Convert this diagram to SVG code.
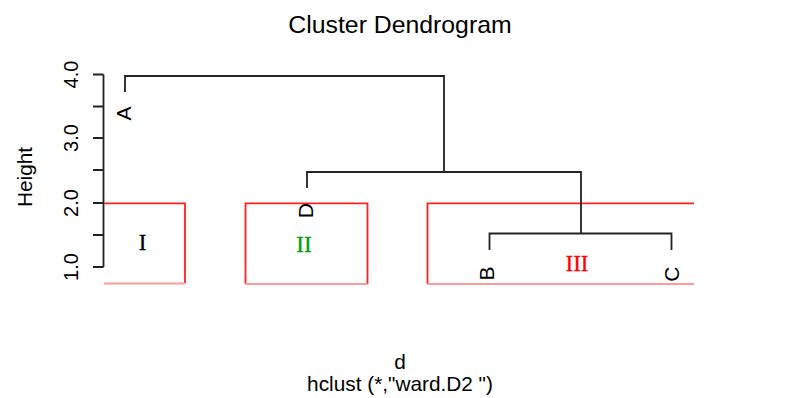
<svg xmlns="http://www.w3.org/2000/svg" width="803" height="398" viewBox="0 0 803 398">
<style>
.t{font-family:"Liberation Sans",Arial,sans-serif;fill:#000}
.ax{stroke:#222;stroke-width:1.8;fill:none}
.dg{stroke:#222;stroke-width:1.8;fill:none}
.rd{stroke:#ff2020;stroke-width:1.8;fill:none}
.pk{stroke:#ff9a9a;stroke-width:1.8;fill:none}
.rm{font-family:"Liberation Serif","Times New Roman",serif;font-size:23px;text-anchor:middle;stroke-width:0.3}
</style>
<rect width="803" height="398" fill="#fff"/>
<text class="t" x="400" y="33" font-size="24.8" text-anchor="middle">Cluster Dendrogram</text>
<g id="axis">
<path class="ax" d="M103.5,74.5V267 M93,74.5H103.5 M93,106.5H103.5 M93,138H103.5 M93,170H103.5 M93,203H103.5 M93,235H103.5 M93,267H103.5"/>
<text class="t" font-size="20" text-anchor="middle" transform="translate(77.5,74.5) rotate(-90)">4.0</text>
<text class="t" font-size="20" text-anchor="middle" transform="translate(77.5,138) rotate(-90)">3.0</text>
<text class="t" font-size="20" text-anchor="middle" transform="translate(77.5,203) rotate(-90)">2.0</text>
<text class="t" font-size="20" text-anchor="middle" transform="translate(77.5,267) rotate(-90)">1.0</text>
<text class="t" font-size="20.8" text-anchor="middle" transform="translate(32,177) rotate(-90)">Height</text>
</g>
<g id="clusters">
<g id="cluster-I">
<path class="rd" d="M104,203.3H185V283"/>
<path class="pk" d="M104,283.5H185"/>
<text class="rm" x="142.5" y="249.5" fill="#000" stroke="#000">I</text>
</g>
<g id="cluster-II">
<path class="rd" d="M245.5,284V203.3H367.5V284"/>
<path class="pk" d="M245.5,284H367.5"/>
<text class="rm" x="304" y="251.5" fill="#00a000" stroke="#00a000">II</text>
</g>
<g id="cluster-III">
<path class="rd" d="M694,203.3H427.5V284"/>
<path class="pk" d="M427.5,284H694"/>
<text class="rm" x="577" y="270.5" fill="#ff0000" stroke="#ff0000">III</text>
</g>
</g>
<g id="connectors">
<path class="dg" d="M125,92V76H444V172 M307,188V172H581V233.5 M489.5,250V233.5H671.5V250"/>
</g>
<g id="leaf-A"><text class="t" font-size="21" text-anchor="end" transform="translate(130.5,106.5) rotate(-90)">A</text></g>
<g id="leaf-D"><text class="t" font-size="21" text-anchor="end" transform="translate(312.5,203) rotate(-90)">D</text></g>
<g id="leaf-B"><text class="t" font-size="21" text-anchor="end" transform="translate(494,266.5) rotate(-90)">B</text></g>
<g id="leaf-C"><text class="t" font-size="21" text-anchor="end" transform="translate(678.5,266.5) rotate(-90)">C</text></g>
<text class="t" x="400" y="368.5" font-size="20.8" text-anchor="middle">d</text>
<text class="t" x="400" y="391" font-size="20.8" text-anchor="middle">hclust (*,"ward.D2 ")</text>
</svg>
